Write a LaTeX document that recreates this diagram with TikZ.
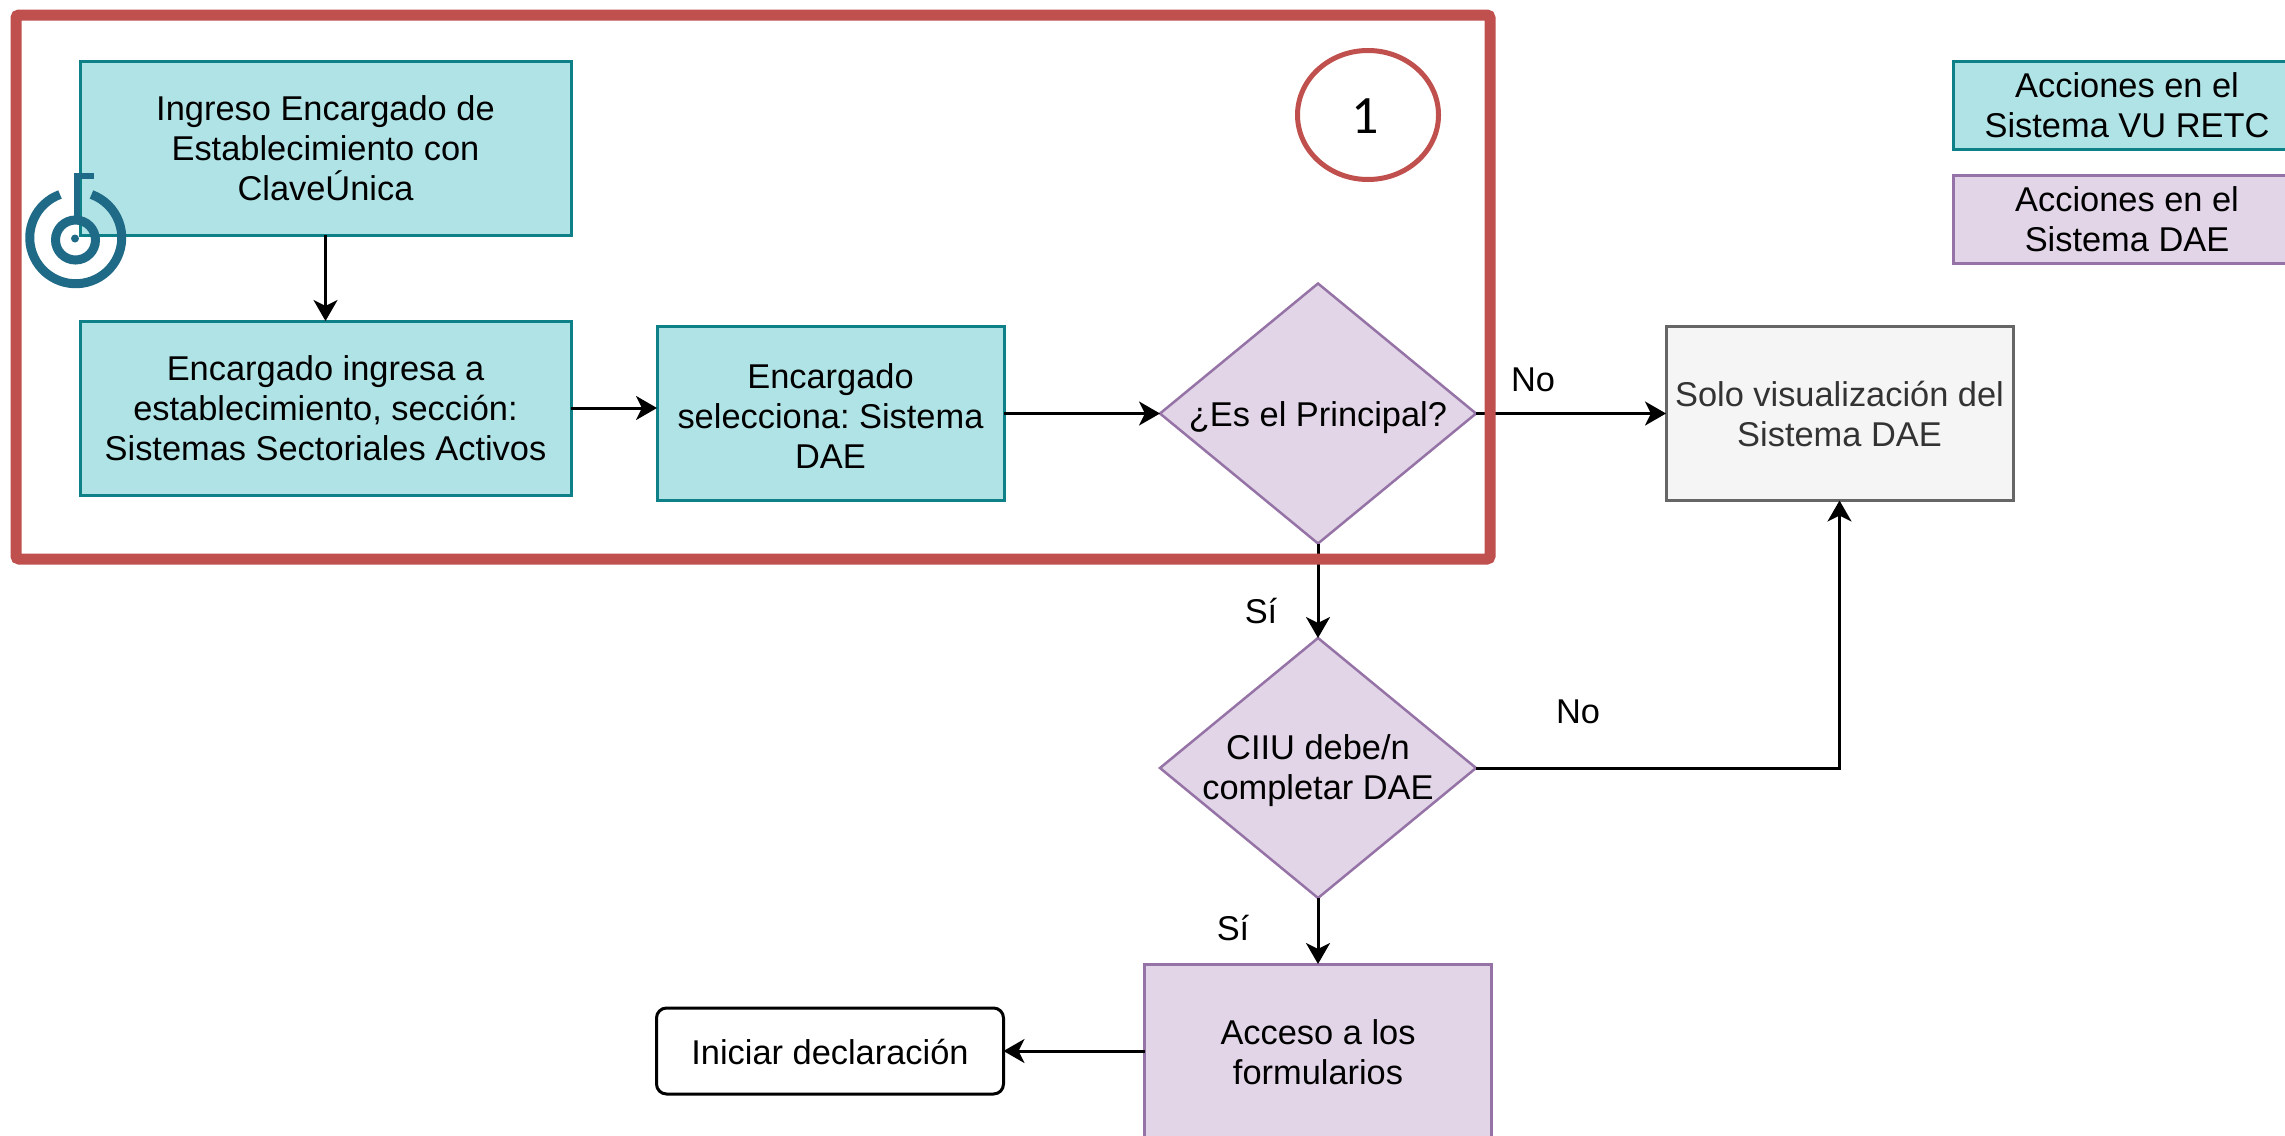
\documentclass[tikz,border=0pt]{standalone}
\usepackage{fontspec}
\setmainfont{Liberation Sans}
\newfontfamily\numfont{Carlito}
\usetikzlibrary{arrows.meta,shapes.geometric,calc}
\definecolor{tealfill}{HTML}{B0E3E6}
\definecolor{tealline}{HTML}{0E8088}
\definecolor{purfill}{HTML}{E1D5E7}
\definecolor{purline}{HTML}{9673A6}
\definecolor{grayfill}{HTML}{F5F5F5}
\definecolor{grayline}{HTML}{666666}
\definecolor{redline}{HTML}{C0504D}
\definecolor{iconblue}{HTML}{1F6A86}
\tikzset{
  every node/.style={font=\frenchspacing\fontsize{34.4}{40}\selectfont,align=center,inner sep=0pt,outer sep=0pt,text=black},
  tealbox/.style={draw=tealline,fill=tealfill,line width=3pt,rectangle},
  purbox/.style={draw=purline,fill=purfill,line width=3pt,rectangle},
  graybox/.style={draw=grayline,fill=grayfill,line width=3pt,rectangle,text=black!80},
  purdia/.style={draw=purline,fill=purfill,line width=2.5pt,diamond,aspect=1.2,inner sep=-14pt},
  startbox/.style={draw=black,fill=white,line width=3pt,rectangle,rounded corners=10pt},
  edgelabel/.style={font=\fontsize{34.4}{40}\selectfont},
  conn/.style={draw=black,line width=3pt,-{Stealth[length=21pt,width=24pt,inset=6pt]}},
  iconline/.style={draw=iconblue,line width=9pt},
}
\begin{document}
\begin{tikzpicture}[x=1pt,y=-1pt]
\useasboundingbox (0,0) rectangle (2285,1135);
\clip (0,0) rectangle (2285,1135);
\fill[white] (0,0) rectangle (2285,1135);

\node[tealbox,minimum width=491pt,minimum height=174pt] (a) at (325.5,148) {Ingreso Encargado de\\Establecimiento con\\ClaveÚnica};
\node[tealbox,minimum width=491pt,minimum height=174pt] (b) at (325.5,408) {Encargado ingresa a\\establecimiento, sección:\\Sistemas Sectoriales Activos};
\node[tealbox,minimum width=347pt,minimum height=174pt] (c) at (830.5,413.5) {\rule{0pt}{30pt}Encargado\\selecciona: Sistema\\DAE};
\node[purdia,minimum width=316pt,minimum height=260pt] (d1) at (1318,413.5) {\rule{0pt}{33pt}¿Es el Principal?};
\node[graybox,minimum width=347pt,minimum height=174pt] (solo) at (1839.5,413.5) {Solo visualización del\\Sistema DAE};
\node[purdia,minimum width=316pt,minimum height=260pt] (d2) at (1318,768) {\rule{0pt}{30pt}CIIU debe/n\\completar DAE};
\node[purbox,minimum width=347pt,minimum height=174pt] (acc) at (1318,1051) {\rule{0pt}{27pt}Acceso a los\\formularios};
\node[startbox,minimum width=347pt,minimum height=86pt] (ini) at (830,1051) {\rule{0pt}{28pt}Iniciar declaración};
\node[tealbox,minimum width=348pt,minimum height=88pt] (leg1) at (2127,105) {Acciones en el\\Sistema VU RETC};
\node[purbox,minimum width=348pt,minimum height=88pt] (leg2) at (2127,219) {Acciones en el\\Sistema DAE};

\draw[conn] (a.south) -- (b.north);
\draw[conn] (b.east) -- (b.east -| c.west);
\draw[conn] (c.east) -- (d1.west);
\draw[conn] (d1.east) -- (solo.west);
\draw[conn] (d1.south) -- (d2.north);
\draw[conn] (d2.east) -| (solo.south);
\draw[conn] (d2.south) -- (acc.north);
\draw[conn] (acc.west) -- (ini.east);

\node[edgelabel] (lno1) at (1533,380) {No};
\node[edgelabel] (lsi1) at (1261,611) {Sí};
\node[edgelabel] (lno2) at (1578,712) {No};
\node[edgelabel] (lsi2) at (1233,928) {Sí};

\draw[redline,line width=11pt,rounded corners=3pt] (16,15) rectangle (1490,559);
\node[draw=redline,line width=5pt,ellipse,minimum width=141pt,minimum height=129pt] (num) at (1368,115) {};
\node[font=\numfont\fontsize{54}{60}\selectfont] (numt) at (1365,116) {1};

% icon
\draw[iconline] (60,194.5) arc[start angle=110,end angle=430,radius=46pt];
\draw[iconline] (75.5,240) circle[radius=20pt];
\fill[iconblue] (75,238.5) circle[radius=4pt];
\draw[iconline,line width=6pt] (77,221) -- (77,176) -- (94,176);
\end{tikzpicture}
\end{document}
